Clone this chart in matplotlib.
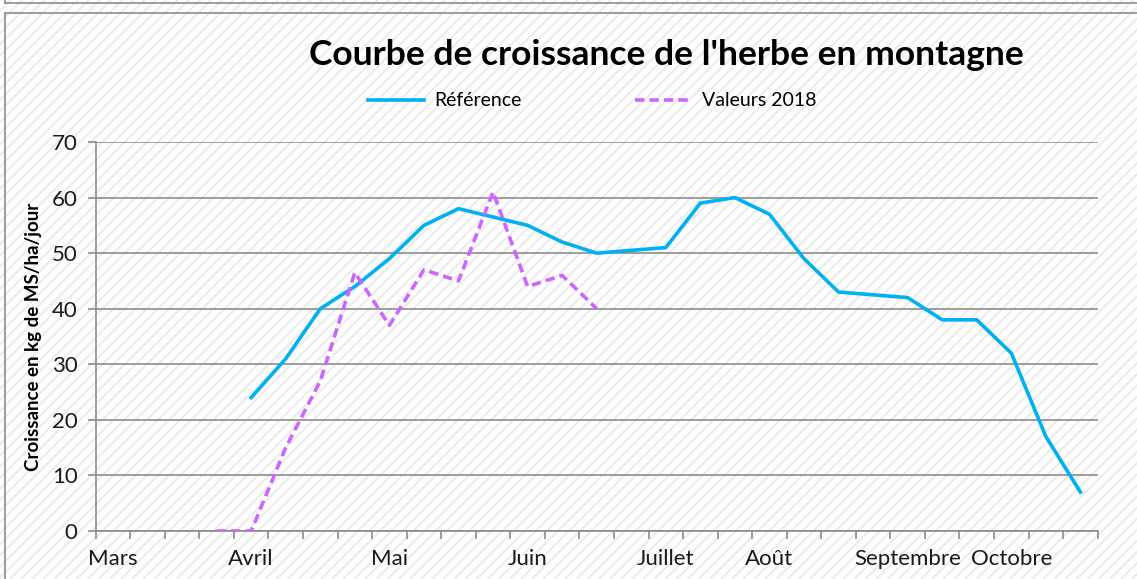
import numpy as np
import matplotlib.pyplot as plt
from matplotlib.patches import Rectangle
from matplotlib.lines import Line2D

plt.rcParams['font.family'] = ['Lato', 'DejaVu Sans']
plt.rcParams['hatch.linewidth'] = 1.5

# weekly categories, month names only on the first week of each month
mois = ["Mars", "", "", "", "Avril", "", "", "", "Mai", "", "", "", "Juin", "", "", "",
        "Juillet", "", "", "Août", "", "", "", "Septembre", "", "", "Octobre", "", ""]

# courbe de reference (starts at week 4)
ref_x = np.arange(4, 29)
ref_y = [24, 31, 40, 44, 49, 55, 58, 56.5, 55, 52, 50, 50.5, 51, 59, 60, 57,
         49, 43, 42.5, 42, 38, 38, 32, 17, 7]

# valeurs 2018 (starts at week 3)
val_x = np.arange(3, 15)
val_y = [0, 0, 15, 27, 46.5, 37, 47, 45, 61, 44, 46, 40]

fig = plt.figure(figsize=(11.37, 5.79), dpi=100)

# striped background over the whole picture
bg = Rectangle((0, 0), 1, 1, transform=fig.transFigure, facecolor='white',
               edgecolor='#ececec', hatch='///', lw=0, zorder=-10)
fig.patches.append(bg)

# frame lines (chart area border and the bottom of the frame above)
grey = '#8c8c8c'
fig.add_artist(Line2D([5/1137, 1], [1-3/579, 1-3/579], transform=fig.transFigure, color=grey, lw=1.2))
fig.add_artist(Line2D([5/1137, 5/1137], [1-3/579, 1], transform=fig.transFigure, color=grey, lw=1.2))
fig.add_artist(Line2D([5/1137, 1], [1-12.5/579, 1-12.5/579], transform=fig.transFigure, color=grey, lw=1.2))
fig.add_artist(Line2D([5/1137, 5/1137], [0, 1-12.5/579], transform=fig.transFigure, color=grey, lw=1.2))

ax = fig.add_axes([95.7/1137, 1-531/579, (1097.7-95.7)/1137, (531-142)/579])
ax.set_facecolor('none')

ax.plot(ref_x, ref_y, color='#00b0f0', lw=2.6, label='Référence', zorder=3)
ax.plot(val_x, val_y, color='#cc66ff', lw=2.6, ls=(0, (2.6, 1.4)), label='Valeurs 2018', zorder=3)

ax.set_xlim(-0.5, 28.5)
ax.set_ylim(0, 70)
ax.set_yticks(np.arange(0, 71, 10))
ax.yaxis.grid(True, color=grey, lw=1.2)
ax.set_axisbelow(True)

ax.set_xticks(np.arange(29))
ax.set_xticklabels(mois, fontsize=16, color='#1a1a1a')
ax.set_xticks(np.arange(-0.5, 29, 1), minor=True)
ax.tick_params(axis='x', which='major', length=0, pad=13)
ax.tick_params(axis='x', which='minor', length=6, color=grey, width=1.2)
ax.tick_params(axis='y', length=6, color=grey, width=1.2, labelsize=16, labelcolor='#1a1a1a', pad=7)

for s in ['top', 'right']:
    ax.spines[s].set_visible(False)
for s in ['left', 'bottom']:
    ax.spines[s].set_color(grey)
    ax.spines[s].set_linewidth(1.2)

ax.set_ylabel('Croissance en kg de MS/ha/jour', fontsize=13.5, fontweight='bold', labelpad=7)

fig.text(666/1137, 1-55/579, "Courbe de croissance de l'herbe en montagne",
         ha='center', va='center', fontsize=25.5, fontweight='bold')

fig.legend(loc='center', bbox_to_anchor=(592/1137, 1-101/579), ncol=2, frameon=False,
           fontsize=14, handlelength=2.9, handletextpad=0.55, columnspacing=5.8)

fig.savefig('out.png', dpi=100)
